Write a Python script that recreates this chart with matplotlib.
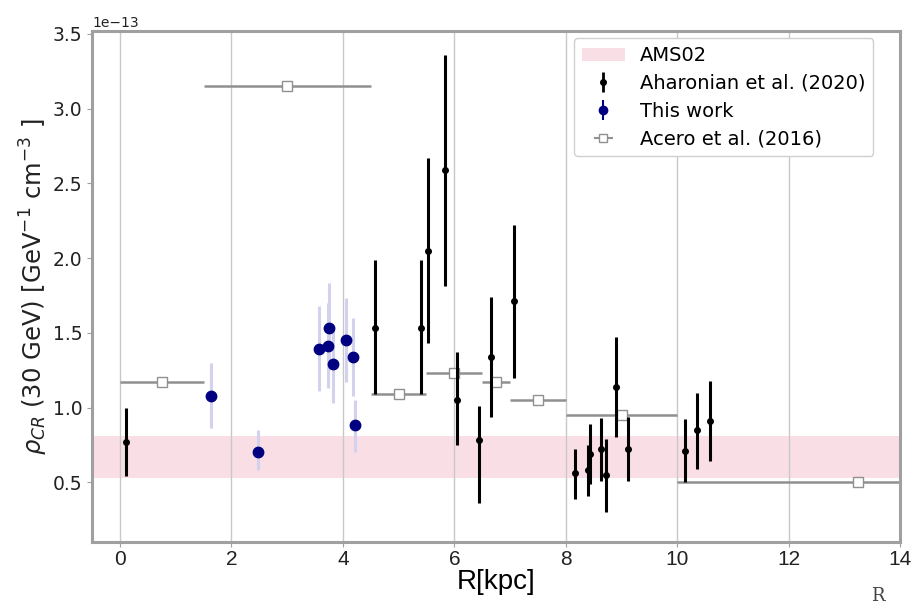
import numpy as np
import matplotlib
matplotlib.use("Agg")
import matplotlib.pyplot as plt
from matplotlib.patches import Patch

# Galactocentric CR density at 30 GeV, in units of 1e-13 GeV^-1 cm^-3
scale = 1e-13

# AMS02 local band
ams_lo, ams_hi = 0.53, 0.81

# Aharonian et al. (2020)
ah_r = [0.10, 4.58, 5.40, 5.53, 5.84, 6.05, 6.45, 6.65, 7.07,
        8.17, 8.39, 8.44, 8.63, 8.72, 8.91, 9.12, 10.14, 10.36, 10.59]
ah_rho = [0.77, 1.53, 1.53, 2.05, 2.59, 1.05, 0.78, 1.34, 1.71,
          0.56, 0.58, 0.69, 0.72, 0.55, 1.14, 0.72, 0.71, 0.85, 0.91]
ah_lo = [0.54, 1.09, 1.09, 1.43, 1.81, 0.75, 0.36, 0.94, 1.20,
         0.39, 0.41, 0.49, 0.51, 0.30, 0.80, 0.51, 0.50, 0.59, 0.64]
ah_hi = [1.00, 1.99, 1.99, 2.67, 3.36, 1.37, 1.01, 1.74, 2.22,
         0.72, 0.75, 0.89, 0.93, 0.79, 1.47, 0.94, 0.92, 1.10, 1.18]

# This work
tw_r = [1.63, 2.48, 3.57, 3.74, 3.75, 3.83, 4.06, 4.19, 4.21]
tw_rho = [1.08, 0.70, 1.39, 1.41, 1.53, 1.29, 1.45, 1.34, 0.88]
tw_lo = [0.86, 0.58, 1.11, 1.13, 1.25, 1.03, 1.17, 1.08, 0.70]
tw_hi = [1.30, 0.85, 1.68, 1.70, 1.83, 1.55, 1.73, 1.60, 1.05]

# Acero et al. (2016), radial bins
ac_r = [0.75, 3.0, 5.0, 6.0, 6.75, 7.5, 9.0, 13.25]
ac_dr = [0.75, 1.5, 0.5, 0.5, 0.25, 0.5, 1.0, 3.25]
ac_rho = [1.17, 3.15, 1.09, 1.23, 1.17, 1.05, 0.95, 0.50]


def asym(val, lo, hi):
    val, lo, hi = np.array(val), np.array(lo), np.array(hi)
    return np.vstack([val - lo, hi - val]) * scale


fig = plt.figure(figsize=(9.12, 6.03), dpi=100)
ax = fig.add_axes([0.101, 0.101, 0.886, 0.848])

ax.axhspan(ams_lo * scale, ams_hi * scale, color="#f9dfe5", lw=0, zorder=0)

ax.errorbar(ah_r, np.array(ah_rho) * scale, yerr=asym(ah_rho, ah_lo, ah_hi),
            fmt="o", color="k", ms=4, elinewidth=2.2, zorder=4)

# light error bars for this work, markers on top
ax.errorbar(tw_r, np.array(tw_rho) * scale, yerr=asym(tw_rho, tw_lo, tw_hi),
            fmt="none", ecolor="#d2d2ef", elinewidth=2.2, zorder=3)
ax.plot(tw_r, np.array(tw_rho) * scale, "o", color="navy", ms=7.5, zorder=5)

ax.errorbar(ac_r, np.array(ac_rho) * scale, xerr=np.array(ac_dr),
            fmt="s", color="#909090", mfc="white", mec="#909090", ms=6.5,
            elinewidth=1.8, zorder=2)

ax.set_xlim(-0.5, 14)
ax.set_ylim(0.1 * scale, 3.52 * scale)
ax.set_xticks(range(0, 15, 2))
ax.set_yticks(np.arange(0.5, 3.51, 0.5) * scale)
ax.grid(axis="x", color="#c8c8c8", lw=1)
ax.set_axisbelow(True)

for s in ax.spines.values():
    s.set_color("#a0a0a0")
    s.set_linewidth(2.2)
ax.tick_params(axis="both", colors="#a0a0a0", labelcolor="#222222")
ax.tick_params(axis="y", labelsize=13.5)
ax.tick_params(axis="x", labelsize=15, pad=2)
for lab in ax.get_xticklabels():
    lab.set_family("Liberation Sans")
ax.yaxis.get_offset_text().set_fontsize(10)

ax.set_ylabel(r"$\rho_{CR}$ (30 GeV) [GeV$^{-1}$ cm$^{-3}$ ]", fontsize=17.5,
              color="#222222", labelpad=2)
ax.set_xlabel("R[kpc]", fontsize=20, family="Liberation Sans", labelpad=0)

# legend built from proxies so the markers keep their own styles
h_ams = Patch(facecolor="#f9dfe5", edgecolor="none", label="AMS02")
h_ah = ax.errorbar([], [], yerr=[], fmt="o", color="k", ms=4, elinewidth=2,
                   label="Aharonian et al. (2020)")
h_tw = ax.errorbar([], [], yerr=[], fmt="o", color="navy", ms=6, capsize=3,
                   label="This work")
h_ac = ax.errorbar([], [], xerr=[], fmt="s", color="#909090", mfc="white",
                   ms=6, label="Acero et al. (2016)")
ax.legend(handles=[h_ams, h_ah, h_tw, h_ac], loc="upper right", fontsize=14,
          framealpha=1, edgecolor="#d0d0d0", borderaxespad=0,
          bbox_to_anchor=(0.967, 0.985), labelspacing=0.45, handlelength=2.2)

fig.text(0.955, 0.004, "R", family="DejaVu Serif", fontsize=13,
         color="#444444")

fig.savefig("out.png", dpi=100)
